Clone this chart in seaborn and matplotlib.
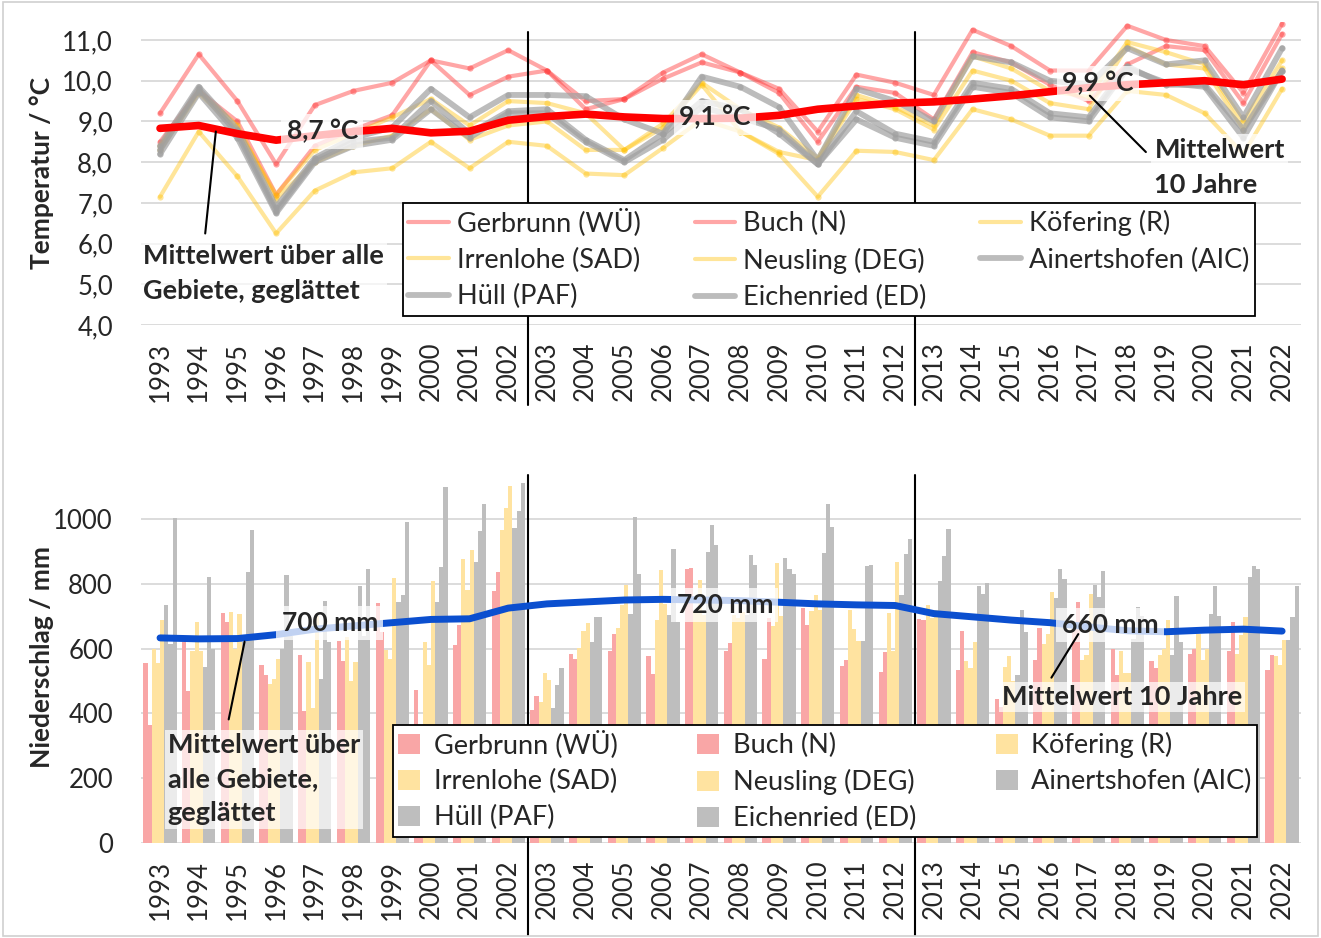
import numpy as np
import pandas as pd
import seaborn as sns
import matplotlib.pyplot as plt
from matplotlib.patches import Rectangle

# =========================
# DATA
# =========================

years = [str(y) for y in range(1993, 2023)]

stations = ['Gerbrunn (WÜ)', 'Buch (N)', 'Köfering (R)', 'Irrenlohe (SAD)',
            'Neusling (DEG)', 'Ainertshofen (AIC)', 'Hüll (PAF)', 'Eichenried (ED)']

temp_gerbrunn = [9.2, 10.65, 9.5, 7.95, 9.4, 9.75, 9.95, 10.5, 10.3, 10.75, 10.25, 9.5, 9.55, 10.2, 10.65,
                 10.2, 9.8, 8.75, 10.15, 9.95, 9.65, 11.25, 10.85, 10.25, 10.25, 11.35, 11.0, 10.85, 9.7, 11.4]
temp_buch = [8.5, 9.75, 9.0, 7.2, 8.4, 8.8, 9.15, 10.5, 9.65, 10.1, 10.25, 9.3, 9.55, 10.05, 10.45,
             10.2, 9.7, 8.5, 9.85, 9.7, 9.05, 10.7, 10.45, 9.9, 9.5, 10.4, 10.85, 10.75, 9.45, 11.15]
temp_koefering = [8.3, 9.7, 8.8, 7.2, 8.3, 8.7, 9.1, 9.55, 8.9, 9.5, 9.45, 9.2, 8.3, 8.95, 9.95,
                  9.3, 8.85, 8.1, 9.65, 9.35, 8.9, 10.6, 10.3, 9.75, 9.6, 10.95, 10.7, 10.4, 9.0, 10.5]
temp_irrenlohe = [7.15, 8.75, 7.65, 6.25, 7.3, 7.75, 7.85, 8.5, 7.85, 8.5, 8.4, 7.72, 7.68, 8.35, 9.05,
                  8.75, 8.2, 7.15, 8.28, 8.25, 8.05, 9.3, 9.05, 8.65, 8.65, 9.75, 9.65, 9.2, 8.2, 9.8]
temp_neusling = [8.4, 9.75, 8.9, 7.1, 8.0, 8.4, 8.65, 9.3, 8.55, 8.9, 9.0, 8.3, 8.3, 8.85, 9.9,
                 8.75, 8.25, 8.05, 9.55, 9.3, 8.8, 10.25, 10.0, 9.45, 9.3, 10.85, 10.4, 10.3, 8.8, 10.3]
temp_ainertshofen = [8.4, 9.85, 8.8, 6.9, 8.1, 8.6, 8.85, 9.8, 9.1, 9.65, 9.65, 9.62, 9.05, 8.7, 10.1,
                     9.85, 9.35, 8.05, 9.8, 9.5, 9.0, 10.6, 10.45, 10.0, 9.9, 10.8, 10.4, 10.5, 9.1, 10.8]
temp_huell = [8.3, 9.8, 8.7, 6.8, 8.05, 8.5, 8.6, 9.5, 8.7, 9.25, 9.3, 8.55, 8.05, 8.7, 9.5,
              9.3, 8.7, 7.95, 9.25, 8.7, 8.5, 9.95, 9.8, 9.2, 9.1, 10.35, 9.9, 9.9, 8.8, 10.25]
temp_eichenried = [8.2, 9.7, 8.6, 6.75, 8.0, 8.4, 8.55, 9.3, 8.6, 9.2, 9.2, 8.5, 8.0, 8.55, 9.35,
                   9.1, 8.8, 7.95, 9.05, 8.6, 8.4, 9.85, 9.7, 9.1, 9.0, 10.3, 9.95, 9.85, 8.6, 10.25]
temp_mean = [8.83, 8.9, 8.7, 8.54, 8.65, 8.75, 8.83, 8.72, 8.76, 9.03, 9.12, 9.18, 9.11, 9.07, 9.07,
             9.08, 9.15, 9.3, 9.38, 9.45, 9.48, 9.55, 9.63, 9.73, 9.83, 9.9, 9.95, 10.0, 9.9, 10.04]

rain_gerbrunn = [554, 620, 711, 548, 579, 623, 741, 471, 612, 778, 412, 584, 592, 577, 845,
                 592, 569, 724, 545, 528, 691, 533, 445, 566, 662, 600, 562, 582, 592, 533]
rain_buch = [363, 468, 682, 520, 406, 561, 652, 350, 672, 837, 453, 567, 644, 521, 850,
             618, 695, 672, 566, 588, 688, 655, 420, 664, 744, 520, 540, 600, 682, 579]
rain_koefering = [600, 592, 713, 492, 559, 636, 595, 620, 878, 966, 435, 602, 664, 688, 715,
                  703, 670, 717, 719, 711, 734, 561, 543, 615, 566, 593, 579, 644, 584, 577]
rain_irrenlohe = [556, 682, 600, 507, 416, 500, 569, 548, 780, 1033, 525, 655, 734, 842, 811,
                  695, 863, 765, 662, 592, 693, 541, 576, 646, 581, 526, 600, 564, 641, 548]
rain_neusling = [688, 592, 706, 567, 700, 560, 818, 809, 904, 1103, 504, 679, 796, 739, 703,
                 713, 700, 719, 624, 866, 720, 619, 500, 775, 770, 526, 688, 600, 698, 626]
rain_ainertshofen = [736, 543, 620, 600, 505, 794, 744, 744, 868, 971, 418, 619, 708, 703, 899,
                     703, 880, 896, 623, 765, 808, 794, 520, 755, 796, 631, 579, 708, 822, 626]
rain_huell = [615, 822, 835, 827, 746, 640, 765, 853, 963, 1025, 489, 698, 1007, 907, 981,
              889, 847, 1045, 855, 892, 887, 767, 718, 847, 760, 729, 762, 794, 855, 698]
rain_eichenried = [1004, 600, 966, 640, 620, 847, 990, 1100, 1045, 1110, 541, 696, 829, 682, 920,
                   858, 830, 976, 858, 938, 968, 801, 650, 816, 839, 700, 620, 700, 847, 794]
rain_mean = [633, 630, 631, 643, 660, 670, 680, 690, 692, 725, 738, 744, 750, 752, 750,
             748, 743, 738, 735, 733, 708, 698, 688, 680, 667, 655, 652, 657, 660, 654]

temp_values = [temp_gerbrunn, temp_buch, temp_koefering, temp_irrenlohe,
               temp_neusling, temp_ainertshofen, temp_huell, temp_eichenried]
rain_values = [rain_gerbrunn, rain_buch, rain_koefering, rain_irrenlohe,
               rain_neusling, rain_ainertshofen, rain_huell, rain_eichenried]

# =========================
# LONG TABLES
# =========================

temp_df = pd.DataFrame([
    {'Jahr': i, 'Station': s, 'Temp': v}
    for s, vals in zip(stations, temp_values)
    for i, v in enumerate(vals)
])
rain_df = pd.DataFrame([
    {'Jahr': years[i], 'Station': s, 'mm': v}
    for s, vals in zip(stations, rain_values)
    for i, v in enumerate(vals)
])

# =========================
# STYLE
# =========================

sns.set_theme(style='white')
plt.rcParams['font.family'] = ['Lato', 'DejaVu Sans']

line_colors = ['#FF3B3B', '#FF3B3B', '#FFC000', '#FFC000', '#FFC000', '#A0A0A0', '#A0A0A0', '#A0A0A0']
line_alpha = [0.45, 0.45, 0.4, 0.4, 0.4, 0.7, 0.7, 0.7]
line_width = [3.0, 3.0, 3.0, 3.0, 3.0, 4.2, 4.2, 4.2]
bar_palette = dict(zip(stations, ['#F9A6A6', '#F9A6A6', '#FFE3A0', '#FFE3A0', '#FFE3A0',
                                  '#BEBEBE', '#BEBEBE', '#BEBEBE']))

fig = plt.figure(figsize=(13.21, 9.38), dpi=100)
ax1 = fig.add_axes([0.1065, 0.6535, 0.8787, 0.3234])
ax2 = fig.add_axes([0.1065, 0.1013, 0.8787, 0.3972])

fig.patches.append(Rectangle((0.002, 0.002), 0.996, 0.996, transform=fig.transFigure,
                             fill=False, edgecolor='#D0D0D0', lw=1.2))

legend_order = [0, 3, 6, 1, 4, 7, 2, 5]
note_box = dict(boxstyle='square,pad=0.12', facecolor='white', edgecolor='none', alpha=0.7)
value_box = dict(boxstyle='square,pad=0.2', facecolor='white', edgecolor='none', alpha=0.75)

# =========================
# TEMPERATURE
# =========================

for k, s in enumerate(stations):
    sns.lineplot(data=temp_df[temp_df['Station'] == s], x='Jahr', y='Temp', ax=ax1,
                 color=line_colors[k], alpha=line_alpha[k], lw=line_width[k],
                 marker='o', markersize=4.5, markeredgewidth=0, label=s, zorder=3)

ax1.plot(range(len(years)), temp_mean, color='#FF0000', lw=5.5, solid_capstyle='round', zorder=5)

ax1.set_xlim(-0.5, len(years) - 0.5)
ax1.set_ylim(4, 11.45)
ax1.set_yticks(np.arange(4, 12))
ax1.set_yticklabels([f'{v},0' for v in range(4, 12)])
ax1.set_xticks(range(len(years)))
ax1.set_xticklabels(years, rotation=90)
ax1.set_xlabel('')
ax1.set_ylabel('Temperatur / °C', fontsize=19, fontweight='bold')
ax1.yaxis.set_label_coords(-0.075, 0.5)
for y in range(4, 12):
    ax1.axhline(y, color='#D9D9D9', lw=1.3, zorder=0)

ax1.axvline(9.5, ymin=-0.265, ymax=(11.2 - 4) / 7.45, color='black', lw=1.5, clip_on=False, zorder=4)
ax1.axvline(19.5, ymin=-0.265, ymax=(11.2 - 4) / 7.45, color='black', lw=1.5, clip_on=False, zorder=4)

for x, y, t in [(4.19, 8.76, '8,7 °C'), (14.34, 9.1, '9,1 °C'), (24.24, 9.94, '9,9 °C')]:
    ax1.text(x, y, t, ha='center', va='center', fontsize=19, fontweight='bold', bbox=value_box, zorder=6)

ax1.annotate('', xy=(1.45, 8.82), xytext=(1.16, 6.18),
             arrowprops=dict(arrowstyle='-', color='black', lw=1.5), zorder=6)
ax1.text(-0.45, 6.0, 'Mittelwert über alle\nGebiete, geglättet', ha='left', va='top',
         fontsize=19.5, fontweight='bold', linespacing=1.55, bbox=note_box, zorder=6)

ax1.annotate('', xy=(23.98, 9.68), xytext=(25.53, 8.2),
             arrowprops=dict(arrowstyle='-', color='black', lw=1.5), zorder=6)
ax1.text(25.7, 8.6, 'Mittelwert\n10 Jahre', ha='left', va='top',
         fontsize=19.5, fontweight='bold', linespacing=1.55, bbox=note_box, zorder=6)

h, l = ax1.get_legend_handles_labels()
leg1 = ax1.legend([h[i] for i in legend_order], [l[i] for i in legend_order],
                  ncol=3, loc='upper left', mode='expand', borderaxespad=0,
                  bbox_to_anchor=(0.305, 0.7836 - 0.1195, 0.645, 0.1195),
                  bbox_transform=fig.transFigure, fontsize=19.5, frameon=True, fancybox=False,
                  framealpha=1, edgecolor='black', handlelength=1.5, handletextpad=0.3,
                  labelspacing=0.42, borderpad=0.2)
leg1.get_frame().set_linewidth(1.3)
leg1.set_zorder(10)
for hd in leg1.legend_handles:
    hd.set_marker('')

# =========================
# PRECIPITATION
# =========================

sns.barplot(data=rain_df, x='Jahr', y='mm', hue='Station', palette=bar_palette, ax=ax2,
            width=0.86, saturation=1, gap=0, linewidth=0, edgecolor='none', zorder=2)

ax2.plot(range(len(years)), rain_mean, color='#0B4FCF', lw=5, solid_capstyle='round', zorder=5)

ax2.set_xlim(-0.5, len(years) - 0.5)
ax2.set_ylim(0, 1150)
ax2.set_yticks(range(0, 1001, 200))
ax2.set_xticks(range(len(years)))
ax2.set_xticklabels(years, rotation=90)
ax2.set_xlabel('')
ax2.set_ylabel('Niederschlag / mm', fontsize=19, fontweight='bold')
ax2.yaxis.set_label_coords(-0.075, 0.5)
for y in range(0, 1001, 200):
    ax2.axhline(y, color='#D9D9D9', lw=1.3, zorder=0)

ax2.axvline(9.5, ymin=-0.247, ymax=0.988, color='black', lw=1.5, clip_on=False, zorder=4)
ax2.axvline(19.5, ymin=-0.247, ymax=0.988, color='black', lw=1.5, clip_on=False, zorder=4)

for x, y, t in [(4.39, 679, '700 mm'), (14.6, 735, '720 mm'), (24.55, 673, '660 mm')]:
    ax2.text(x, y, t, ha='center', va='center', fontsize=19, fontweight='bold', bbox=value_box, zorder=6)

ax2.annotate('', xy=(2.2, 630), xytext=(1.76, 373),
             arrowprops=dict(arrowstyle='-', color='black', lw=1.5), zorder=6)
ax2.text(0.2, 338, 'Mittelwert über\nalle Gebiete,\ngeglättet', ha='left', va='top',
         fontsize=19.5, fontweight='bold', linespacing=1.5, bbox=note_box, zorder=6)

ax2.annotate('', xy=(23.77, 652), xytext=(23.0, 503),
             arrowprops=dict(arrowstyle='-', color='black', lw=1.5), zorder=6)
ax2.text(21.76, 451, 'Mittelwert 10 Jahre', ha='left', va='center',
         fontsize=19.5, fontweight='bold', bbox=note_box, zorder=6)

h, l = ax2.get_legend_handles_labels()
leg2 = ax2.legend([h[i] for i in legend_order], [l[i] for i in legend_order],
                  ncol=3, loc='upper left', mode='expand', borderaxespad=0,
                  bbox_to_anchor=(0.2975, 0.227 - 0.115, 0.654, 0.115),
                  bbox_transform=fig.transFigure, fontsize=19.5, frameon=True, fancybox=False,
                  framealpha=1, edgecolor='black', handlelength=0.8, handleheight=0.8,
                  handletextpad=0.5, labelspacing=0.4, borderpad=0.2)
leg2.get_frame().set_linewidth(1.3)
leg2.set_zorder(10)

for ax in (ax1, ax2):
    for sp in ax.spines.values():
        sp.set_visible(False)
    ax.tick_params(axis='both', length=0, labelsize=18.5)
    ax.tick_params(axis='y', pad=20)
    ax.tick_params(axis='x', pad=12)

fig.savefig('out.png', dpi=100)
